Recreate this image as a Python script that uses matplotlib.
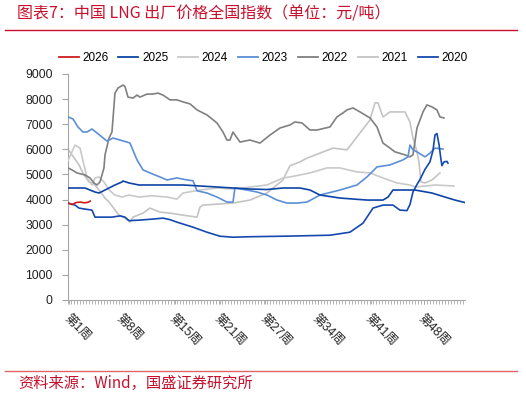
import matplotlib
matplotlib.use("Agg")
import matplotlib.pyplot as plt
from matplotlib.lines import Line2D
import numpy as np

plt.rcParams['font.family'] = ['Liberation Sans', 'Noto Sans CJK SC', 'DejaVu Sans']

title = "图表7：中国 LNG 出厂价格全国指数（单位：元/吨）"
source = "资料来源：Wind，国盛证券研究所"

tick_weeks = [1, 8, 15, 21, 27, 34, 41, 48]
tick_labels = ["第1周", "第8周", "第15周", "第21周", "第27周", "第34周", "第41周", "第48周"]

w2026 = [0.85, 1.4, 1.9, 2.5, 3.0, 3.5, 3.8]
v2026 = [3860, 3800, 3880, 3900, 3870, 3890, 3940]

w2025 = [0.85, 3.1, 4.43, 4.96, 5.76, 7.08, 8.01, 8.14, 8.94, 10.26, 11.99, 16.1, 18.35, 20.61,
         22.73, 24.98, 27.24, 29.36, 31.61, 32.94, 34.27, 36.92, 40.5, 42.62, 43.3, 43.95, 46.2,
         46.86, 49.12, 50.84, 52.17, 53.49]
v2025 = [4460, 4460, 4300, 4260, 4380, 4580, 4700, 4740, 4660, 4580, 4580, 4580, 4540, 4500,
         4460, 4420, 4400, 4460, 4460, 4380, 4180, 4060, 3980, 3980, 4100, 4380, 4380,
         4380, 4260, 4100, 3980, 3880]

w2024 = [0.85, 1.78, 2.44, 2.97, 3.37, 4.03, 4.43, 4.96, 5.62, 6.29, 7.08, 8.01, 8.94, 10.26,
         11.99, 13.98, 15.3, 16.1, 18.35, 20.61, 22.73, 24.98, 27.24, 29.36, 30.29, 31.61, 32.94,
         35.2, 36.92, 39.17, 40.9, 42.62, 44.48, 46.2, 46.86, 49.52, 52.04]
v2024 = [5550, 6170, 6050, 5380, 4860, 4580, 4860, 4900, 4700, 4380, 4180, 4100, 4180, 4100,
         4150, 4100, 4020, 4260, 4380, 4460, 4420, 4500, 4580, 4860, 4900, 4980, 5060,
         5260, 5260, 5100, 5060, 4860, 4660, 4580, 4500, 4580, 4540]

w2023 = [0.85, 1.51, 2.17, 2.84, 3.37, 4.03, 4.7, 5.36, 6.02, 6.82, 7.75, 8.67, 9.07, 10.0, 10.8,
         11.72, 13.05, 13.98, 15.3, 16.63, 17.43, 17.96, 19.28, 20.61, 21.93, 22.73, 22.99, 24.59,
         25.91, 27.24, 28.57, 29.9, 31.22, 32.54, 34.27, 36.92, 39.17, 40.5, 41.83, 43.55, 45.27,
         45.94, 46.2, 46.6, 47.13, 48.19, 48.85, 49.52, 50.58]
v2023 = [7290, 7210, 6890, 6690, 6690, 6810, 6650, 6490, 6330, 6450, 6370, 6290, 6250, 5580, 5180,
         5060, 4900, 4780, 4860, 4780, 4750, 4350, 4260, 4100, 3900, 3900, 4460, 4380,
         4300, 4180, 3980, 3860, 3860, 3900, 4180, 4380, 4580, 4900, 5300, 5380, 5580,
         5700, 6170, 5980, 5900, 5700, 5850, 6050, 6010]

w2022 = [0.85, 1.38, 2.04, 3.1, 3.77, 4.3, 4.7, 5.09, 5.62, 5.76, 6.29, 6.68, 7.08, 7.48, 8.14,
         8.41, 8.81, 9.47, 10.0, 10.4, 11.32, 12.12, 12.78, 13.45, 14.38, 15.3, 16.1, 17.03, 17.96,
         19.28, 20.61, 21.4, 21.93, 22.33, 22.73, 23.66, 24.98, 26.31, 27.64, 28.97, 30.29, 30.95,
         31.88, 32.94, 33.87, 35.59, 36.52, 37.32, 37.85, 38.64, 39.57, 40.9, 41.83, 42.62, 43.55,
         44.21, 45.54, 46.2, 46.6, 47.13, 47.53, 47.93, 48.45, 49.12, 49.78, 50.18, 50.71]
v2022 = [5260, 5180, 5060, 4980, 4860, 4660, 4580, 4700, 5260, 5780, 6450, 6690, 8240, 8440, 8560,
         8500, 8080, 8040, 8160, 8080, 8200, 8200, 8240, 8160, 7970, 7970, 7890, 7810, 7570,
         7370, 7050, 6690, 6370, 6370, 6690, 6290, 6370, 6250, 6570, 6850, 6970, 7090,
         7050, 6770, 6770, 6890, 7290, 7450, 7570, 7650, 7490, 7250, 6890, 6250, 6050,
         5900, 5780, 5700, 5780, 6850, 7170, 7490, 7770, 7690, 7570, 7290, 7250]

w2021 = [0.85, 1.38, 2.31, 2.97, 3.63, 4.3, 4.96, 5.76, 6.29, 7.61, 8.41, 9.07, 9.47, 10.8, 11.72,
         13.05, 14.38, 16.1, 17.96, 18.35, 18.75, 22.73, 24.98, 27.24, 29.36, 30.29, 31.61, 32.54,
         34.27, 35.99, 37.85, 39.57, 40.9, 41.56, 41.96, 42.62, 43.55, 45.54, 46.2, 46.6, 47.13,
         47.39, 47.66, 48.19, 49.12, 50.18]
v2021 = [6000, 5780, 5380, 4980, 4700, 4620, 4380, 4060, 3900, 3380, 3260, 3100, 3300, 3460, 3660,
         3500, 3460, 3380, 3300, 3700, 3780, 3860, 3980, 4260, 4780, 5350, 5500, 5650,
         5850, 6050, 5980, 6650, 7170, 7850, 7850, 7290, 7490, 7490, 7090, 6450, 5900,
         5500, 4700, 4660, 4780, 5060]

w2020 = [0.85, 1.78, 2.31, 3.1, 4.03, 4.43, 6.68, 7.75, 8.41, 8.94, 10.26, 11.99, 13.45, 14.38,
         15.3, 17.43, 19.28, 21.0, 22.73, 24.98, 29.36, 35.59, 38.24, 39.97, 41.3, 42.62, 43.95,
         44.87, 45.8, 46.2, 46.6, 47.13, 47.53, 48.19, 48.85, 49.25, 49.52, 49.78, 50.05, 50.31,
         50.44, 50.71, 51.11, 51.24]
v2020 = [3860, 3780, 3660, 3620, 3580, 3300, 3300, 3350, 3300, 3160, 3180, 3220, 3260, 3200,
         3100, 2900, 2700, 2540, 2500, 2520, 2540, 2580, 2700, 3060, 3660, 3780, 3780,
         3580, 3560, 3800, 4300, 4600, 4800, 5200, 5500, 5950, 6570, 6630, 6200, 5600,
         5350, 5500, 5520, 5450]

series = [
    ("2026", w2026, v2026, "#D01C1C"),
    ("2025", w2025, v2025, "#0E44A6"),
    ("2024", w2024, v2024, "#C9C9C9"),
    ("2023", w2023, v2023, "#5B8FD6"),
    ("2022", w2022, v2022, "#808080"),
    ("2021", w2021, v2021, "#C4C4C4"),
    ("2020", w2020, v2020, "#1549B0"),
]

fig = plt.figure(figsize=(5.26, 3.96), dpi=100)
ax = fig.add_axes([68/526, 1-300/396, (465-68)/526, 226/396])

zorders = {"2026": 9, "2025": 8, "2024": 3, "2023": 6, "2022": 4, "2021": 2, "2020": 7}
handles = []
for name, w, v, c in series:
    ax.plot(w, v, color=c, lw=1.2, zorder=zorders[name], solid_joinstyle='round')
    handles.append(Line2D([0], [0], color=c, lw=1.3))

ax.set_xlim(0.85, 53.5)
ax.set_ylim(0, 9000)
ax.set_yticks(np.arange(0, 9001, 1000))
ax.set_xticks(tick_weeks)
ax.set_xticklabels(tick_labels, rotation=-45, ha='left', va='top', rotation_mode='anchor',
                   fontsize=9, color='#222222')
ax.set_xticks(np.arange(0.85, 53.5, 0.4), minor=True)
ax.tick_params(axis='y', labelsize=8.7, colors='#222222', length=4, width=0.8, color='#A6A6A6', pad=7)
ax.tick_params(axis='x', which='both', length=3, width=0.6, color='#A6A6A6', pad=6)
for s in ['top', 'right']:
    ax.spines[s].set_visible(False)
for s in ['left', 'bottom']:
    ax.spines[s].set_color('#A6A6A6')
    ax.spines[s].set_linewidth(0.8)

fig.legend(handles, [s[0] for s in series], loc='center', bbox_to_anchor=(0.50, 1-58/396),
           ncol=7, frameon=False, fontsize=8.5, handlelength=1.7, handletextpad=0.3,
           columnspacing=0.85, borderaxespad=0)

red = "#C8102E"
fig.text(17/526, 1-14/396, title, color=red, fontsize=11.5, ha='left', va='center',
         family=['Noto Sans CJK SC', 'DejaVu Sans'])
fig.add_artist(Line2D([5/526, 517/526], [1-30/396, 1-30/396], color=red, lw=1.0))
fig.add_artist(Line2D([5/526, 517/526], [1-371/396, 1-371/396], color="#E06666", lw=1.0))
fig.text(18/526, 1-383/396, source, color=red, fontsize=11, ha='left', va='center',
         family=['Noto Sans CJK SC', 'DejaVu Sans'])

fig.savefig("out.png", dpi=100)
